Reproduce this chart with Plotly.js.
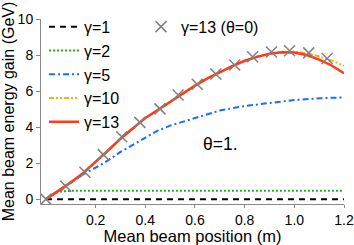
<!DOCTYPE html>
<html><head><meta charset="utf-8">
<script src="https://cdn.plot.ly/plotly-3.0.1.min.js"></script>
<style>html,body{margin:0;padding:0;background:#fff}#c{width:354px;height:245px}</style>
</head><body><div id="c"></div>
<script>
const xMain = [0,0.05,0.1,0.15,0.2,0.25,0.3,0.35,0.4,0.45,0.5,0.55,0.6,0.65,0.7,0.75,0.8,0.85,0.9,0.95,1.0,1.05,1.1,1.15,1.2];
const gamma13 = [0,0.45,0.93,1.45,2.05,2.7,3.35,3.95,4.5,4.95,5.4,5.85,6.3,6.7,7.05,7.38,7.68,7.9,8.07,8.15,8.14,8.0,7.75,7.42,6.99];
const gamma10 = [0,0.45,0.93,1.45,2.05,2.7,3.35,3.95,4.5,4.95,5.4,5.85,6.3,6.7,7.05,7.38,7.68,7.92,8.09,8.18,8.2,8.1,7.92,7.7,7.4];
const xBlue = [0,0.05,0.1,0.15,0.2,0.25,0.3,0.35,0.4,0.45,0.5,0.6,0.7,0.8,0.9,1.0,1.1,1.2];
const gamma5 = [0,0.47,0.93,1.37,1.75,2.15,2.62,3.02,3.42,3.8,4.08,4.52,4.92,5.17,5.35,5.5,5.6,5.65];
const xGreen = [0,0.02,0.04,0.06,0.1,0.2,0.4,0.6,0.8,1.0,1.2];
const gamma2 = [0,0.2,0.35,0.42,0.46,0.47,0.47,0.47,0.47,0.47,0.47];
const xBlack = [0,0.4,0.8,1.2];
const gamma1 = [0,0,0,0];
const xTheta0 = [0,0.08,0.157,0.231,0.305,0.378,0.459,0.532,0.609,0.684,0.76,0.832,0.908,0.981,1.058,1.132];
const gamma13Theta0 = [0,0.72,1.49,2.47,3.46,4.26,5.01,5.78,6.38,6.95,7.45,7.9,8.17,8.24,8.12,7.81];
const xTicks = [0.2,0.4,0.6,0.8,1.0,1.2];
const xTickText = ['0.2','0.4','0.6','0.8','1.0','1.2'];
const yTicks = [0,2,4,6,8,10];

const F = 'Liberation Sans, Arial, sans-serif';
const traces = [
  {x:xBlack,y:gamma1,mode:'lines',name:'γ=1',line:{color:'#000000',width:2,dash:'6px,5px'}},
  {x:xGreen,y:gamma2,mode:'lines',name:'γ=2',line:{color:'#1fb21f',width:2,dash:'2px,2px'}},
  {x:xBlue,y:gamma5,mode:'lines',name:'γ=5',line:{color:'#1a6cff',width:2,dash:'6px,3px,2px,3px'}},
  {x:xMain,y:gamma10,mode:'lines',name:'γ=10',line:{color:'#ffb000',width:2,dash:'5px,2px,2px,2px,2px,2px'}},
  {x:xMain,y:gamma13,mode:'lines',name:'γ=13',line:{color:'#ff3a1a',width:2.5}},
  {x:xTheta0,y:gamma13Theta0,mode:'markers',name:'γ=13 (θ=0)',legend:'legend2',
   marker:{symbol:'x-thin',size:11,line:{color:'#808080',width:1.5},color:'#808080'}}
];
const layout = {
  width:354,height:245,
  margin:{l:41,r:10,t:13,b:41},
  paper_bgcolor:'#fff',plot_bgcolor:'#fff',
  font:{family:F,size:15,color:'#000'},
  showlegend:true,
  legend:{x:0.01,y:1.05,xanchor:'left',yanchor:'top',bgcolor:'rgba(0,0,0,0)',font:{family:F,size:16},tracegroupgap:0},
  legend2:{x:0.33,y:1.05,xanchor:'left',yanchor:'top',bgcolor:'rgba(0,0,0,0)',font:{family:F,size:16}},
  xaxis:{range:[-0.02,1.2],tickvals:xTicks,ticktext:xTickText,ticks:'outside',ticklen:3,tickcolor:'#888',
    showline:true,linecolor:'#888',linewidth:1,showgrid:false,zeroline:false,mirror:false,
    ticklabeloverflow:'allow',automargin:false,
    tickfont:{family:F,size:14},title:{text:'Mean beam position (m)',font:{family:F,size:16.5},standoff:6}},
  yaxis:{range:[-0.27,10],tickvals:yTicks,ticks:'outside',ticklen:4,tickcolor:'#888',
    showline:true,linecolor:'#888',linewidth:1,showgrid:false,zeroline:false,automargin:false,
    tickfont:{family:F,size:14},title:{text:'Mean beam energy gain (GeV)',font:{family:F,size:16},standoff:2}},
  annotations:[{x:0.703,y:3.04,xref:'x',yref:'y',text:'θ=1.',showarrow:false,font:{family:F,size:17.5,color:'#000'}}]
};
Plotly.newPlot('c',traces,layout,{staticPlot:true,displayModeBar:false});
</script></body></html>
